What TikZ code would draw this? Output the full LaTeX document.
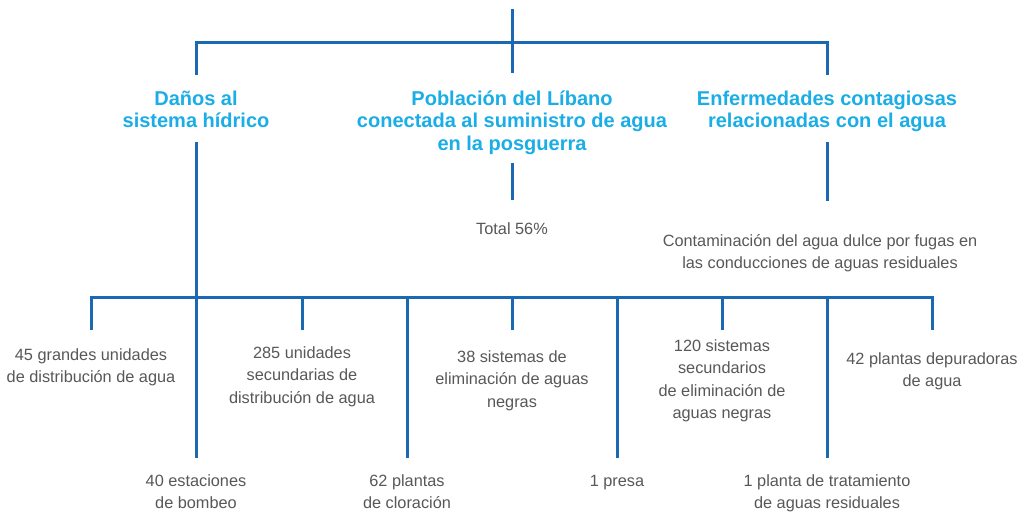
\documentclass[tikz,border=0pt]{standalone}
\usepackage{fontspec}
\setmainfont{Liberation Sans}
\definecolor{lineblue}{HTML}{1A69B2}
\definecolor{titlecyan}{HTML}{1AADE6}
\definecolor{txtgray}{HTML}{58585A}
\begin{document}
\begin{tikzpicture}[x=1pt,y=-1pt,
  conn/.style={draw=lineblue,line width=3pt},
  titlebox/.style={anchor=base,align=center,inner sep=0pt,text=titlecyan,font=\fontsize{20}{22.5}\selectfont\bfseries},
  leafbox/.style={anchor=base,align=center,inner sep=0pt,text=txtgray,font=\fontsize{16.3}{22.5}\selectfont}]
\path[use as bounding box,fill=white] (0,0) rectangle (1025,514);
% top tree
\coordinate (root) at (512,9);
\coordinate (jtop) at (512,42);
\coordinate (jA) at (196,42);
\coordinate (jC) at (827,42);
\coordinate (eA) at (196,73);
\coordinate (eB) at (512,73);
\coordinate (eC) at (827,73);
\node[titlebox] (tA) at (196,127.5) {Daños al\\sistema hídrico};
\node[titlebox] (tB) at (512,150) {Población del Líbano\\conectada al suministro de agua\\en la posguerra};
\node[titlebox] (tC) at (827,127.5) {Enfermedades contagiosas\\relacionadas con el agua};
\draw[conn] (root) -- (jtop);
\draw[conn,line cap=rect] (eA) -- (jA) -- (jC) -- (eC);
\draw[conn] (jtop) -- (eB);
% middle
\coordinate (sA) at (196,142);
\coordinate (sB) at (512,163);
\coordinate (fB) at (512,200);
\coordinate (sC) at (827,142);
\coordinate (fC) at (827,201);
\node[leafbox] (total) at (512,234) {Total 56\%};
\node[leafbox] (cont) at (820,268.5) {Contaminación del agua dulce por fugas en\\las conducciones de aguas residuales};
\draw[conn] (sB) -- (fB);
\draw[conn] (sC) -- (fC);
% bottom bar
\coordinate (bA) at (196,297);
\coordinate (bL) at (91,297);
\coordinate (bR) at (932,297);
\draw[conn] (sA) -- (bA);
\draw[conn,line cap=rect] (bL) -- (bR);
\foreach \x/\n in {91/a,302/b,512/c,722/d,932/e}{
  \coordinate (s\n top) at (\x,297);
  \coordinate (s\n end) at (\x,330);
  \draw[conn] (s\n top) -- (s\n end);
}
\foreach \x/\n in {196/f,407/g,617/h,827/i}{
  \coordinate (l\n top) at (\x,297);
  \coordinate (l\n end) at (\x,458);
  \draw[conn] (l\n top) -- (l\n end);
}
% leaves
\node[leafbox] (na) at (91,382.5) {45 grandes unidades\\de distribución de agua};
\node[leafbox] (nb) at (302,403) {285 unidades\\secundarias de\\distribución de agua};
\node[leafbox] (nc) at (512,407) {38 sistemas de\\eliminación de aguas\\negras};
\node[leafbox] (nd) at (722,418.5) {120 sistemas\\secundarios\\de eliminación de\\aguas negras};
\node[leafbox] (ne) at (932,386.5) {42 plantas depuradoras\\de agua};
\node[leafbox] (nf) at (196,508.5) {40 estaciones\\de bombeo};
\node[leafbox] (ng) at (407,508.5) {62 plantas\\de cloración};
\node[leafbox] (nh) at (617,486) {1 presa};
\node[leafbox] (ni) at (827,508.5) {1 planta de tratamiento\\de aguas residuales};
\end{tikzpicture}
\end{document}
